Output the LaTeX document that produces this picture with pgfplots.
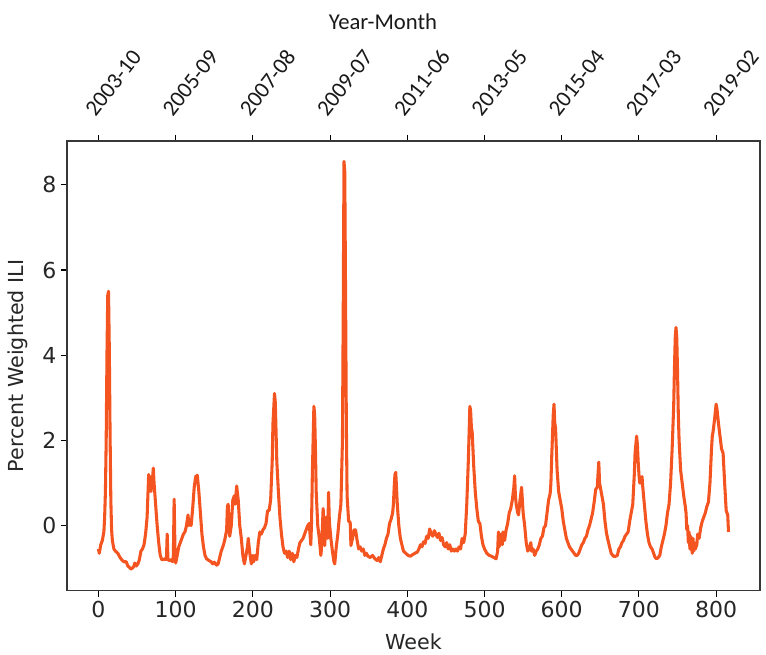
\documentclass[border=0pt]{standalone}
\usepackage{fontspec}
\setmainfont{DejaVu Sans}
\newfontfamily\calfont{Carlito}
\usepackage{pgfplots}
\usepackage{pgfplotstable}
\pgfplotsset{compat=1.18}
\definecolor{iliorange}{RGB}{244,84,32}
\definecolor{axgray}{RGB}{55,55,55}

% weekly percent weighted ILI (standardised)
\pgfplotstableread{
week val
0 -0.55
1 -0.65
3 -0.45
5 -0.35
7 -0.15
8 0.2
9 0.8
10 2.0
11 4.0
12 5.4
13 5.5
14 4.2
15 2.2
16 0.6
17 -0.1
18 -0.35
20 -0.55
22 -0.6
25 -0.65
28 -0.75
30 -0.8
33 -0.85
36 -0.85
38 -0.95
40 -0.98
42 -1.02
44 -1.0
46 -0.95
47 -0.88
49 -0.95
51 -0.9
53 -0.8
55 -0.6
57 -0.55
59 -0.45
61 -0.2
63 0.2
64 0.7
65 1.2
66 0.85
67 1.15
68 0.8
70 1.1
71 1.35
72 1.0
74 0.5
76 0.0
78 -0.4
80 -0.7
82 -0.8
84 -0.8
86 -0.78
88 -0.8
89 -0.2
90 -0.8
92 -0.82
94 -0.8
96 -0.85
97 -0.7
98 0.62
99 -0.5
100 -0.88
102 -0.7
104 -0.5
106 -0.4
108 -0.3
110 -0.2
112 -0.15
114 0.0
116 0.25
117 0.0
119 0.15
120 0.0
122 0.4
124 0.9
126 1.15
128 1.18
130 0.8
132 0.3
134 -0.2
136 -0.5
138 -0.7
140 -0.78
143 -0.82
146 -0.85
148 -0.9
150 -0.86
153 -0.93
155 -0.9
157 -0.75
159 -0.6
162 -0.45
164 -0.3
166 -0.1
167 0.45
168 0.5
169 0.0
170 -0.25
172 0.0
174 0.6
176 0.7
177 0.5
179 0.93
181 0.6
183 0.0
185 -0.3
187 -0.7
189 -0.9
191 -0.7
193 -0.5
194 -0.3
196 -0.65
198 -0.9
200 -0.7
201 -0.85
203 -0.7
205 -0.8
207 -0.4
209 -0.15
211 -0.2
213 -0.1
215 -0.05
217 0.05
219 0.35
221 0.35
223 0.6
225 1.5
226 2.4
228 3.1
229 2.9
230 2.2
231 1.5
233 0.8
235 0.2
237 -0.2
239 -0.5
241 -0.65
243 -0.6
245 -0.75
247 -0.6
249 -0.8
251 -0.65
253 -0.85
255 -0.7
257 -0.75
259 -0.55
261 -0.4
263 -0.35
265 -0.3
267 -0.2
269 -0.1
271 0.0
273 0.05
275 -0.45
276 0.1
277 1.2
279 2.8
280 2.6
281 1.8
282 0.8
284 0.0
286 -0.3
288 -0.7
289 -0.5
291 0.4
292 -0.1
293 -0.47
295 0.2
297 -0.3
298 0.78
299 0.1
301 -0.3
303 -0.6
305 -0.85
306 -0.9
308 -0.5
310 -0.2
312 0.2
314 0.5
316 2.0
317 5.0
318 8.55
319 8.3
320 5.5
321 2.5
322 0.7
324 0.1
326 0.08
327 -0.47
329 -0.3
331 -0.1
333 -0.1
335 -0.35
337 -0.55
339 -0.5
341 -0.6
343 -0.55
345 -0.7
347 -0.65
349 -0.72
352 -0.75
355 -0.7
358 -0.78
361 -0.82
363 -0.75
365 -0.85
367 -0.7
369 -0.55
371 -0.45
373 -0.3
375 -0.2
377 0.05
379 0.15
381 0.3
382 0.5
383 0.9
384 1.2
385 1.25
386 0.9
387 0.5
389 0.0
391 -0.3
393 -0.45
395 -0.6
398 -0.65
401 -0.7
404 -0.72
407 -0.68
410 -0.65
413 -0.62
415 -0.55
417 -0.45
419 -0.5
421 -0.38
423 -0.42
425 -0.25
427 -0.3
429 -0.08
431 -0.2
433 -0.25
435 -0.12
437 -0.2
439 -0.28
441 -0.18
443 -0.35
445 -0.28
447 -0.45
449 -0.5
451 -0.4
453 -0.55
455 -0.45
457 -0.6
459 -0.55
461 -0.6
463 -0.55
465 -0.6
467 -0.5
469 -0.55
471 -0.3
473 -0.4
475 -0.2
477 0.5
479 1.5
481 2.8
482 2.7
483 2.3
484 2.2
486 1.4
488 0.8
490 0.4
492 0.1
494 0.05
496 -0.25
498 -0.45
500 -0.55
503 -0.65
506 -0.7
509 -0.72
512 -0.75
515 -0.78
517 -0.6
518 -0.15
519 -0.5
521 -0.2
523 -0.45
524 -0.15
526 -0.35
528 -0.1
530 0.05
532 0.3
534 0.4
536 0.6
538 0.9
539 1.17
540 0.7
541 0.5
543 0.3
544 0.25
546 0.6
548 0.9
549 0.6
550 0.3
552 0.0
554 -0.4
556 -0.6
558 -0.55
560 -0.4
561 -0.6
563 -0.55
565 -0.7
567 -0.6
569 -0.55
571 -0.45
573 -0.3
575 -0.25
577 -0.05
579 0.0
581 0.3
583 0.6
585 0.75
586 1.0
587 1.6
589 2.6
590 2.85
591 2.4
592 2.3
593 1.8
594 1.3
596 0.8
598 0.6
600 0.4
602 0.1
604 -0.1
606 -0.3
608 -0.4
610 -0.5
612 -0.55
614 -0.6
616 -0.65
618 -0.7
620 -0.7
622 -0.65
624 -0.55
626 -0.45
628 -0.4
630 -0.3
632 -0.25
634 -0.1
636 0.0
638 0.15
640 0.3
642 0.55
644 0.85
646 0.9
647 1.2
648 1.49
649 1.0
650 0.9
652 0.7
654 0.5
656 0.1
658 -0.18
660 -0.35
662 -0.5
664 -0.65
667 -0.72
670 -0.72
672 -0.7
674 -0.55
676 -0.5
678 -0.4
680 -0.35
682 -0.25
684 -0.2
686 -0.15
688 0.1
690 0.3
692 0.5
694 1.2
695 1.7
697 2.1
698 1.9
699 1.5
700 1.2
701 1.0
702 1.0
704 1.15
705 0.9
707 0.5
709 0.1
711 -0.2
713 -0.4
715 -0.5
717 -0.55
719 -0.65
721 -0.75
723 -0.78
725 -0.75
727 -0.7
729 -0.5
731 -0.35
733 -0.2
735 0.0
737 0.3
739 0.5
741 1.0
743 1.8
745 2.8
746 3.7
747 4.4
748 4.65
749 4.4
750 3.6
751 2.6
752 2.0
754 1.3
756 1.0
758 0.7
760 0.45
761 0.3
762 -0.1
763 0.0
764 -0.4
765 -0.15
766 -0.55
767 -0.25
768 -0.45
769 -0.65
770 -0.3
771 -0.6
772 -0.4
773 -0.55
775 -0.45
776 -0.2
778 -0.3
780 -0.05
782 0.1
784 0.2
786 0.3
788 0.45
790 0.55
792 1.0
794 1.8
795 2.1
796 2.2
798 2.5
800 2.85
801 2.75
803 2.4
805 2.1
807 1.8
809 1.7
811 1.0
813 0.35
815 0.25
816 -0.15
}\iliweekly

\begin{document}
\begin{tikzpicture}
\begin{axis}[
  name=main,
  scale only axis, width=520pt, height=337.5pt,
  xmin=-40.8, xmax=856.8, ymin=-1.53, ymax=9.03,
  xtick={0,100,...,800}, ytick={0,2,4,6,8},
  xtick pos=lower, ytick pos=left,
  tick align=outside, major tick length=4.5pt,
  axis line style={axgray, line width=1pt},
  every tick/.style={black, line width=0.8pt},
  /pgf/number format/assume math mode=true,
  tick label style={font=\fontsize{16.5}{18}\selectfont, text=black!85},
  label style={font=\fontsize{15.5}{17}\selectfont, text=black!85},
  xlabel={Week}, ylabel={Percent Weighted ILI},
  xlabel style={at={(axis description cs:0.5,-0.1311)}, anchor=base},
  ylabel style={at={(axis description cs:-0.0707,0.5)}, anchor=center},
]
\addplot[color=iliorange, line width=2.3pt, line join=round] table[x=week, y=val] {\iliweekly};
\end{axis}
\begin{axis}[
  at={(main.south west)}, anchor=south west,
  scale only axis, width=520pt, height=337.5pt,
  xmin=-40.8, xmax=856.8, ymin=0, ymax=1,
  axis x line*=top, axis y line=none,
  axis line style={axgray, line width=1pt},
  xtick={0,100,...,800},
  xticklabels={2003-10,2005-09,2007-08,2009-07,2011-06,2013-05,2015-04,2017-03,2019-02},
  tick align=outside, major tick length=4.5pt,
  every tick/.style={black, line width=0.8pt},
  xticklabel style={font=\calfont\fontsize{17}{19}\selectfont, text=black!90,
    inner sep=0pt, anchor=south west, xshift=-2pt, yshift=12.75pt, rotate=52},
  xlabel={Year-Month},
  xlabel style={font=\calfont\fontsize{17}{19}\selectfont, text=black!90,
    at={(axis description cs:0.456,1.2467)}, anchor=base},
]
\addplot[draw=none] coordinates {(0,0)};
\end{axis}
\path (main.south west) ++(-50.25pt,-45.75pt);
\path (main.north east) ++(4.5pt,105.75pt);
\end{tikzpicture}
\end{document}
